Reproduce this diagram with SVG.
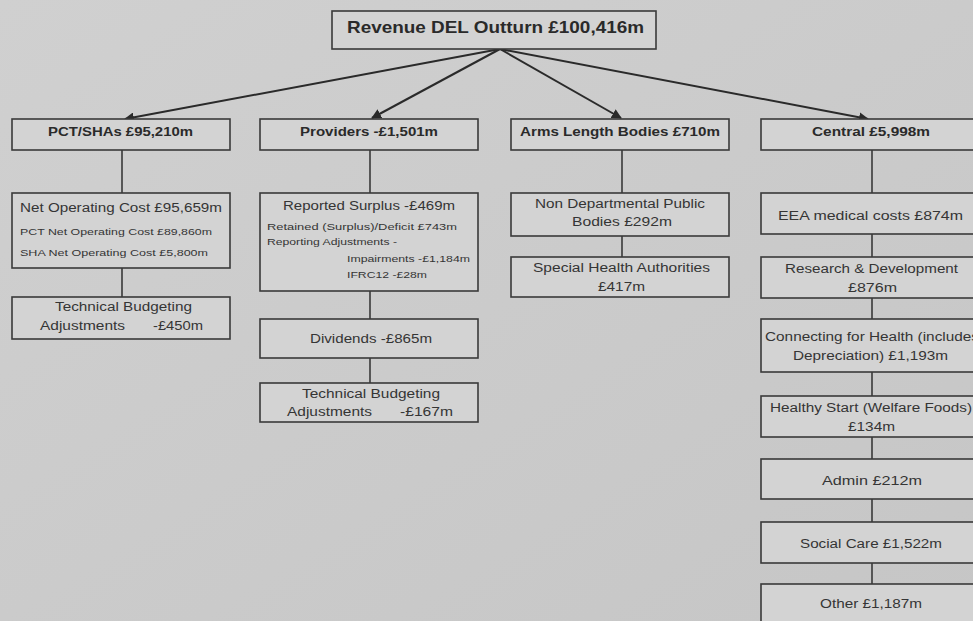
<svg xmlns="http://www.w3.org/2000/svg" width="973" height="621" viewBox="0 0 973 621">
<style>
.bx{fill:#d3d3d3;stroke:#3a3a3a;stroke-width:1.6}
.t{font-family:"Liberation Sans",Arial,sans-serif;font-size:12.3px;fill:#353535}
.b{font-weight:bold;font-size:13px;fill:#2a2a2a}
.s{font-size:9.5px}
.ln{stroke:#3a3a3a;stroke-width:1.6;fill:none}
.ar{stroke:#2a2a2a;stroke-width:2;fill:none;marker-end:url(#ah)}
</style>
<defs>
<linearGradient id="bg" x1="0" y1="0" x2="1" y2="1">
<stop offset="0" stop-color="#d0d0d0"/>
<stop offset="1" stop-color="#c6c6c6"/>
</linearGradient>
<marker id="ah" viewBox="0 0 10 10" refX="9" refY="5" markerWidth="5" markerHeight="5" orient="auto">
<path d="M0,0 L10,5 L0,10 z" fill="#2a2a2a"/>
</marker>
</defs>
<rect width="973" height="621" fill="url(#bg)"/>
<g id="connectors">
<path class="ar" d="M500,49 L125,119"/>
<path class="ar" d="M500,49 L372,118"/>
<path class="ar" d="M500,49 L621,118"/>
<path class="ar" d="M500,49 L868,119"/>
<path class="ln" d="M122,150 V193 M122,268 V297"/>
<path class="ln" d="M370,150 V193 M370,291 V319 M370,358 V383"/>
<path class="ln" d="M622,150 V193 M622,236 V257"/>
<path class="ln" d="M872,150 V193 M872,234 V257 M872,298 V319 M872,372 V396 M872,437 V459 M872,499 V522 M872,563 V584"/>
</g>
<g id="root"><rect class="bx" x="332" y="11" width="324" height="38"/><text class="t b" x="347" y="32.5" style="font-size:16.5px" textLength="297" lengthAdjust="spacingAndGlyphs">Revenue DEL Outturn £100,416m</text></g>
<g id="pct"><rect class="bx" x="12" y="119" width="218" height="31"/><text class="t b" x="48" y="136" textLength="145" lengthAdjust="spacingAndGlyphs">PCT/SHAs £95,210m</text></g>
<g id="pct-noc"><rect class="bx" x="12" y="193" width="218" height="75"/>
<text class="t" x="20" y="212" textLength="202" lengthAdjust="spacingAndGlyphs">Net Operating Cost £95,659m</text>
<text class="t s" x="20" y="235" textLength="192" lengthAdjust="spacingAndGlyphs">PCT Net Operating Cost £89,860m</text>
<text class="t s" x="20" y="256" textLength="188" lengthAdjust="spacingAndGlyphs">SHA Net Operating Cost £5,800m</text></g>
<g id="pct-tba"><rect class="bx" x="12" y="297" width="218" height="42"/>
<text class="t" x="55" y="311" textLength="137" lengthAdjust="spacingAndGlyphs">Technical Budgeting</text>
<text class="t" x="40" y="330" textLength="85" lengthAdjust="spacingAndGlyphs">Adjustments</text><text class="t" x="153" y="330" textLength="50" lengthAdjust="spacingAndGlyphs">-£450m</text></g>
<g id="prov"><rect class="bx" x="260" y="119" width="218" height="31"/><text class="t b" x="300" y="136" textLength="138" lengthAdjust="spacingAndGlyphs">Providers -£1,501m</text></g>
<g id="prov-rs"><rect class="bx" x="260" y="193" width="218" height="98"/>
<text class="t" x="283" y="210" textLength="172" lengthAdjust="spacingAndGlyphs">Reported Surplus -£469m</text>
<text class="t s" x="267" y="230" textLength="190" lengthAdjust="spacingAndGlyphs">Retained (Surplus)/Deficit  £743m</text>
<text class="t s" x="267" y="245" textLength="130" lengthAdjust="spacingAndGlyphs">Reporting Adjustments -</text>
<text class="t s" x="347" y="262" textLength="123" lengthAdjust="spacingAndGlyphs">Impairments -£1,184m</text>
<text class="t s" x="347" y="278" textLength="80" lengthAdjust="spacingAndGlyphs">IFRC12 -£28m</text></g>
<g id="prov-div"><rect class="bx" x="260" y="319" width="218" height="39"/><text class="t" x="310" y="343" textLength="122" lengthAdjust="spacingAndGlyphs">Dividends -£865m</text></g>
<g id="prov-tba"><rect class="bx" x="260" y="383" width="218" height="39"/>
<text class="t" x="302" y="398" textLength="138" lengthAdjust="spacingAndGlyphs">Technical Budgeting</text>
<text class="t" x="287" y="416" textLength="85" lengthAdjust="spacingAndGlyphs">Adjustments</text><text class="t" x="400" y="416" textLength="53" lengthAdjust="spacingAndGlyphs">-£167m</text></g>
<g id="alb"><rect class="bx" x="511" y="119" width="218" height="31"/><text class="t b" x="520" y="136" textLength="200" lengthAdjust="spacingAndGlyphs">Arms Length Bodies £710m</text></g>
<g id="alb-ndpb"><rect class="bx" x="511" y="193" width="218" height="43"/>
<text class="t" x="535" y="208" textLength="170" lengthAdjust="spacingAndGlyphs">Non Departmental Public</text>
<text class="t" x="572" y="226" textLength="100" lengthAdjust="spacingAndGlyphs">Bodies £292m</text></g>
<g id="alb-sha"><rect class="bx" x="511" y="257" width="218" height="40"/>
<text class="t" x="533" y="272" textLength="177" lengthAdjust="spacingAndGlyphs">Special Health Authorities</text>
<text class="t" x="598" y="291" textLength="47" lengthAdjust="spacingAndGlyphs">£417m</text></g>
<g id="central"><rect class="bx" x="761" y="119" width="222" height="31"/><text class="t b" x="812" y="136" textLength="118" lengthAdjust="spacingAndGlyphs">Central £5,998m</text></g>
<g id="c-eea"><rect class="bx" x="761" y="193" width="222" height="41"/><text class="t" x="778" y="220" textLength="185" lengthAdjust="spacingAndGlyphs">EEA medical costs £874m</text></g>
<g id="c-rd"><rect class="bx" x="761" y="257" width="222" height="41"/>
<text class="t" x="785" y="273" textLength="173" lengthAdjust="spacingAndGlyphs">Research &amp; Development</text><text class="t" x="848" y="292" textLength="49" lengthAdjust="spacingAndGlyphs">£876m</text></g>
<g id="c-cfh"><rect class="bx" x="761" y="319" width="222" height="53"/>
<text class="t" x="765" y="341" textLength="214" lengthAdjust="spacingAndGlyphs">Connecting for Health (includes</text><text class="t" x="793" y="360" textLength="155" lengthAdjust="spacingAndGlyphs">Depreciation) £1,193m</text></g>
<g id="c-hs"><rect class="bx" x="761" y="396" width="222" height="41"/>
<text class="t" x="770" y="412" textLength="202" lengthAdjust="spacingAndGlyphs">Healthy Start (Welfare Foods)</text><text class="t" x="848" y="431" textLength="47" lengthAdjust="spacingAndGlyphs">£134m</text></g>
<g id="c-admin"><rect class="bx" x="761" y="459" width="222" height="40"/><text class="t" x="822" y="485" textLength="100" lengthAdjust="spacingAndGlyphs">Admin  £212m</text></g>
<g id="c-sc"><rect class="bx" x="761" y="522" width="222" height="41"/><text class="t" x="800" y="548" textLength="142" lengthAdjust="spacingAndGlyphs">Social Care £1,522m</text></g>
<g id="c-other"><rect class="bx" x="761" y="584" width="222" height="50"/><text class="t" x="820" y="608" textLength="102" lengthAdjust="spacingAndGlyphs">Other £1,187m</text></g>
</svg>
